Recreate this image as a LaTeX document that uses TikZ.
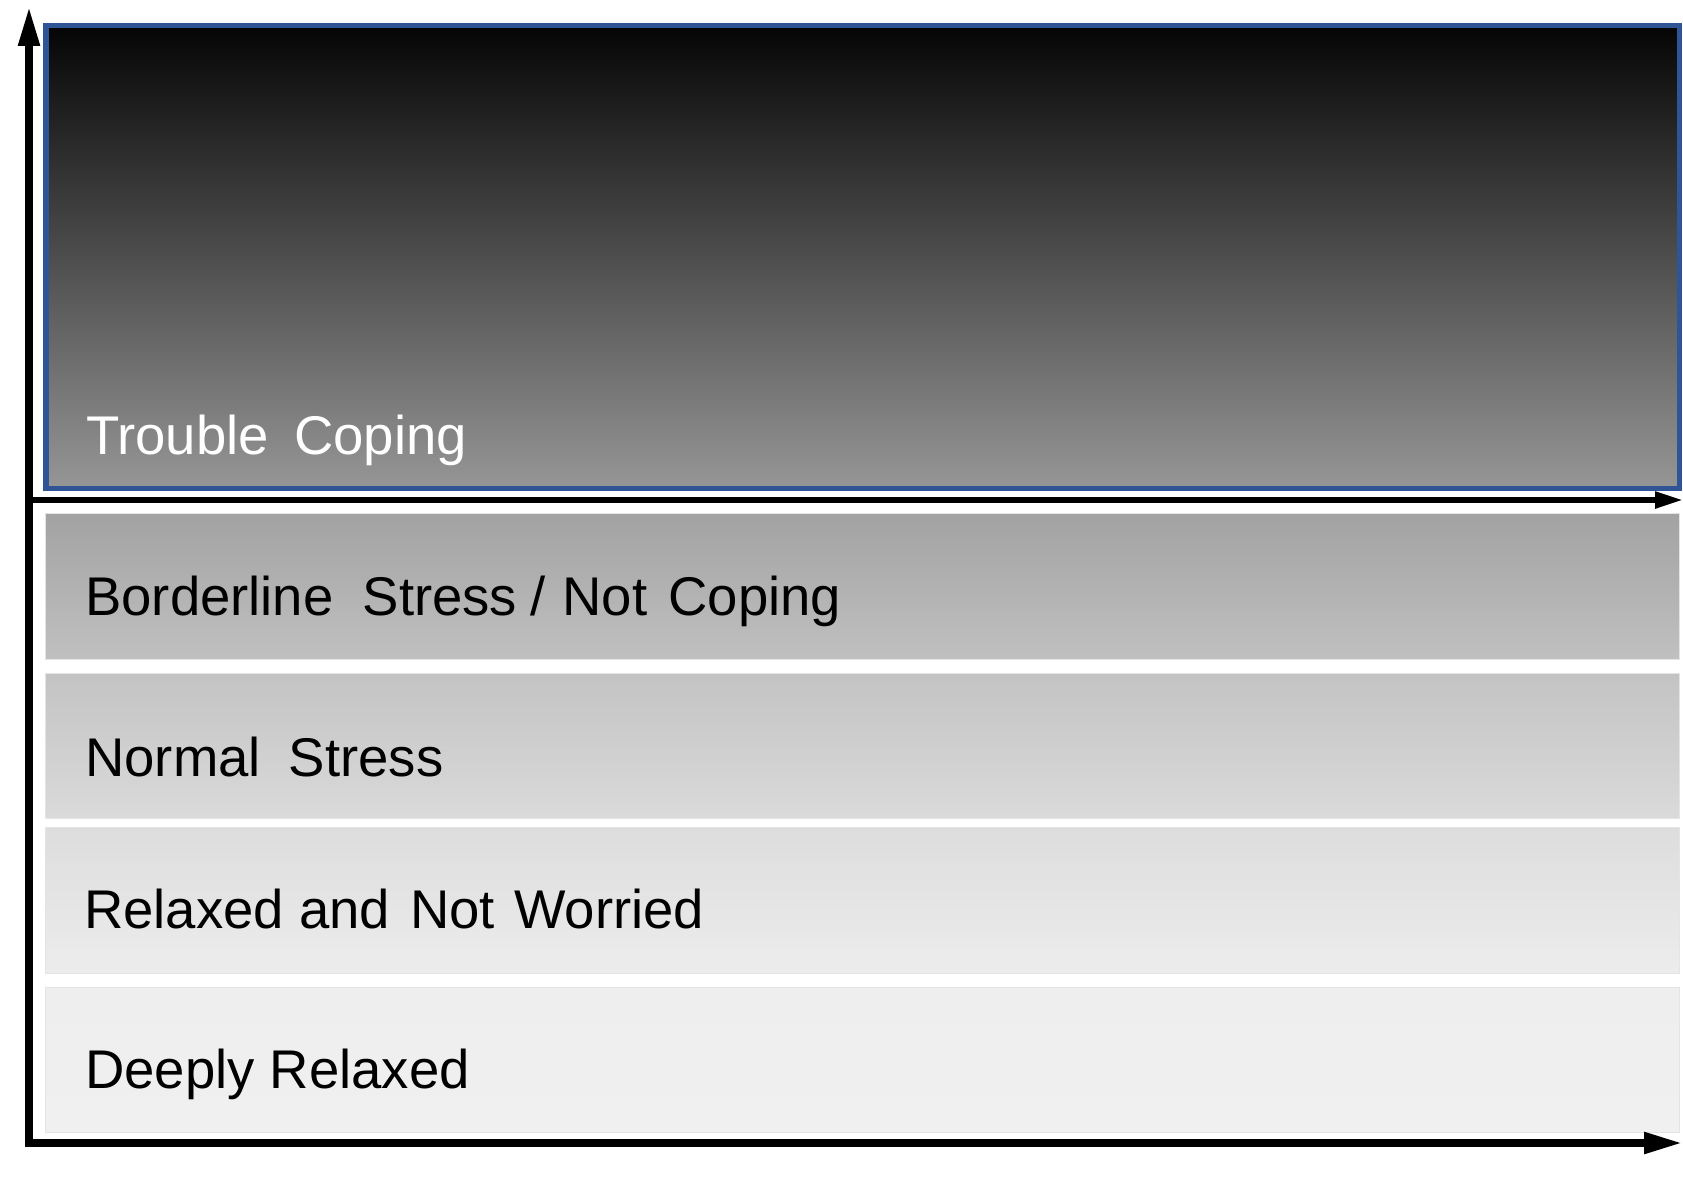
\documentclass[tikz,border=0pt]{standalone}
\usepackage{fontspec}
\setmainfont{Liberation Sans}
\usetikzlibrary{arrows.meta}
\definecolor{boxblue}{RGB}{47,85,151}
\definecolor{g1top}{RGB}{5,5,5}
\definecolor{g1bot}{RGB}{150,150,150}
\definecolor{g2top}{RGB}{162,162,162}
\definecolor{g2bot}{RGB}{192,192,192}
\definecolor{g3top}{RGB}{195,195,195}
\definecolor{g3bot}{RGB}{218,218,218}
\definecolor{g4top}{RGB}{221,221,221}
\definecolor{g4bot}{RGB}{236,236,236}
\definecolor{g5top}{RGB}{238,238,238}
\definecolor{g5bot}{RGB}{240,240,240}
\definecolor{bandedge}{RGB}{228,228,228}
\begin{document}
\begin{tikzpicture}[x=1pt,y=-1pt,
  lbl/.style={anchor=base west, inner sep=0pt, font=\fontsize{54.5}{65}\selectfont},
  axisline/.style={line width=8pt, line join=miter, draw=black},
  midaxis/.style={line width=5.5pt, draw=black},
  band/.style={draw=bandedge, line width=1pt}]
\useasboundingbox (0,0) rectangle (1683,1182);
% top box
\shade[top color=g1top, bottom color=g1bot] (45.75,25.75) rectangle (1679.25,488.25);
\draw[boxblue, line width=5.5pt] (45.75,25.75) rectangle (1679.25,488.25);
% bands
\shade[band, top color=g2top, bottom color=g2bot] (45,513) rectangle (1679,659);
\shade[band, top color=g3top, bottom color=g3bot] (45,673) rectangle (1679,818);
\shade[band, top color=g4top, bottom color=g4bot] (45,827) rectangle (1679,973);
\shade[band, top color=g5top, bottom color=g5bot] (45,987) rectangle (1679,1132);
% labels
\node[lbl, text=white] (trouble) at (86,454) {Trouble\hspace{10pt} Coping};
\node[lbl] (border) at (85,615) {Borderline\hspace{14pt} Stress\hspace{-2pt} /\hspace{2pt} Not\hspace{6pt} Coping};
\node[lbl] (normal) at (85,776) {Normal\hspace{13pt} Stress};
\node[lbl] (relaxed) at (84,928) {Relaxed and\hspace{5pt} Not\hspace{4pt} Worried};
\node[lbl] (deeply) at (85,1088) {Deeply Relaxed};
% axes
\coordinate (origin) at (29,1143);
\coordinate (ytip) at (29,6);
\coordinate (xtip) at (1683,1143);
\coordinate (mstart) at (33,500);
\coordinate (mtip) at (1683,500);
\draw[axisline, {Triangle[length=40pt,width=20pt]}-{Triangle[length=39pt,width=20pt]}] (ytip) -- (origin) -- (xtip);
\draw[midaxis, -{Triangle[length=28pt,width=16pt]}] (mstart) -- (mtip);
\end{tikzpicture}
\end{document}
